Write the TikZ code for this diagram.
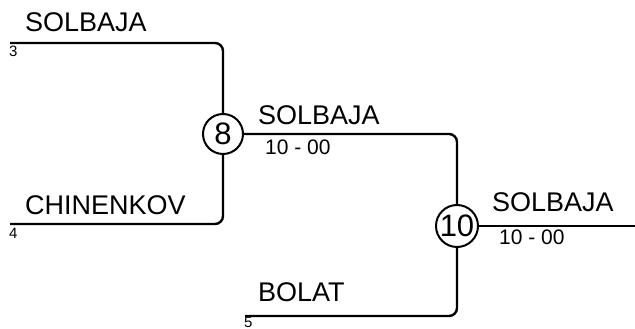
\documentclass[tikz,border=0pt]{standalone}
\usepackage{fontspec}
\setmainfont{Liberation Sans}
\usepackage{tikz}
\usetikzlibrary{calc, positioning}

\begin{document}
\begin{tikzpicture}[x=1pt, y=1pt,
    line/.style={line width=2.4pt, rounded corners=8pt},
    match/.style={draw, circle, line width=2pt, minimum size=40pt, inner sep=0pt, font=\fontsize{31}{31}\selectfont},
    player/.style={anchor=base west, inner sep=0pt, font=\fontsize{27}{27}\selectfont},
    score/.style={anchor=base west, inner sep=0pt, font=\fontsize{21}{21}\selectfont},
    seed/.style={anchor=base west, inner sep=0pt, font=\fontsize{15}{15}\selectfont}]

            \useasboundingbox (0,0) rectangle (635,329);

            % Vòng đấu
            \node[match] (m8) at (223,195) {8};
            \node[match, minimum size=42pt] (m10) at (457,103) {10};

            % Điểm đầu các nhánh
            \coordinate (s3) at (10,286);
            \coordinate (s4) at (10,105);
            \coordinate (s5) at (245,13);
            \coordinate (win) at (635,103);

            % Các nhánh
            \draw[line] (s3) -| (m8);
            \draw[line] (s4) -| (m8);
            \draw[line] (m8) -| (m10);
            \draw[line] (s5) -| (m10);
            \draw[line] (m10) -- (win);

            % Tên vận động viên
            \node[player] (p3) at (25,297) {SOLBAJA};
            \node[player] (p4) at (25,114) {CHINENKOV};
            \node[player] (w8) at (258,204) {SOLBAJA};
            \node[player] (p5) at (258,27) {BOLAT};
            \node[player] (w10) at (492,117) {SOLBAJA};

            % Tỉ số và hạt giống
            \node[score] (r8) at (265,174) {10 - 00};
            \node[score] (r10) at (499,84) {10 - 00};
            \node[seed] (n3) at (9,272) {3};
            \node[seed] (n4) at (9,90) {4};
            \node[seed] (n5) at (244,1) {5};

\end{tikzpicture}
\end{document}
